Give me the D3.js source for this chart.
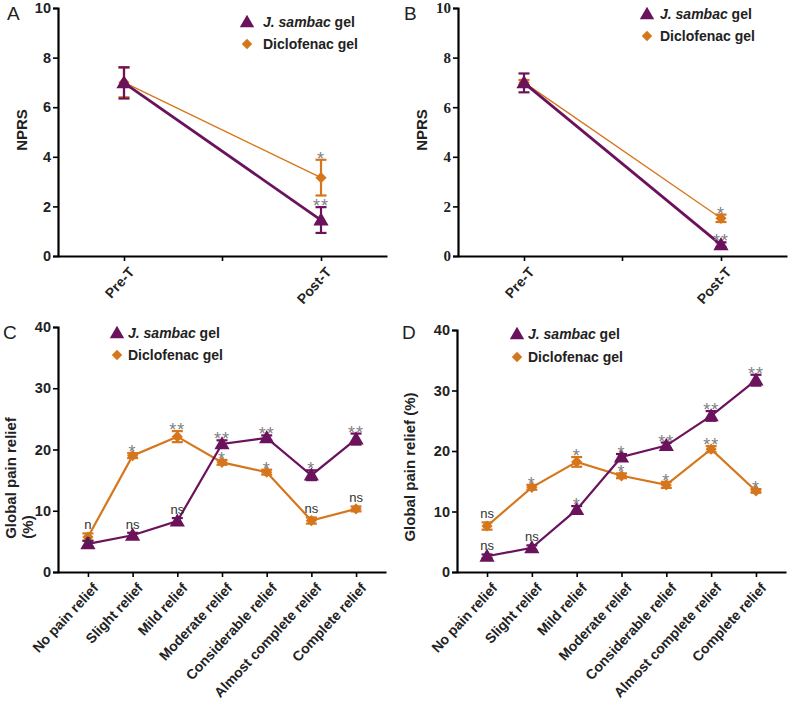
<!DOCTYPE html>
<html><head><meta charset="utf-8">
<script src="https://cdn.jsdelivr.net/npm/d3@7/dist/d3.min.js"></script>
<style>body{margin:0;background:#fff}svg{display:block;font-family:"Liberation Sans",Arial,sans-serif}</style>
</head><body><svg id="c" width="790" height="707"></svg>
<script>
// ---------- DATA ----------
const nprsCats = ["Pre-T", "Post-T"];
const aSambac = [6.98, 1.45], aSambacErr = [0.63, 0.52];
const aDiclo = [7.0, 3.16], aDicloErr = [0.6, 0.72];
const aSambacSig = ["", "**"], aDicloSig = ["", "*"];
const bSambac = [6.98, 0.45], bSambacErr = [0.38, 0.1];
const bDiclo = [7.0, 1.52], bDicloErr = [0.1, 0.15];
const bSambacSig = ["", "**"], bDicloSig = ["", "*"];
const nprsTicks = [0, 2, 4, 6, 8, 10];

const reliefCats = ["No pain relief", "Slight relief", "Mild relief", "Moderate relief",
  "Considerable relief", "Almost complete relief", "Complete relief"];
const cSambac = [4.6, 6.0, 8.3, 20.9, 21.9, 15.8, 21.7];
const cSambacErr = [0.5, 0.4, 0.5, 0.6, 0.4, 0.8, 0.9];
const cDiclo = [5.7, 19.0, 22.1, 17.9, 16.3, 8.4, 10.3];
const cDicloErr = [0.6, 0.4, 0.9, 0.4, 0.4, 0.5, 0.4];
const cSambacSig = ["s", "ns", "ns", "**", "**", "*", "**"];
const cDicloSig = ["n", "*", "**", "*", "*", "ns", "ns"];
const dSambac = [2.6, 4.0, 10.3, 19.0, 20.9, 25.8, 31.7];
const dSambacErr = [0.3, 0.4, 0.6, 0.5, 0.5, 0.8, 0.9];
const dDiclo = [7.6, 14.0, 18.2, 15.9, 14.4, 20.3, 13.4];
const dDicloErr = [0.6, 0.4, 0.8, 0.4, 0.5, 0.5, 0.3];
const dSambacSig = ["ns", "ns", "*", "*", "**", "**", "**"];
const dDicloSig = ["ns", "*", "*", "*", "*", "**", "*"];
const reliefTicks = [0, 10, 20, 30, 40];

const PURPLE = "#6b125c", ORANGE = "#d6761c";
const SANS = "'Liberation Sans',Arial,sans-serif";
const svg = d3.select("#c");

function panel(o) {
  const g = svg.append("g").attr("font-family", SANS);
  const x = d3.scalePoint().domain(o.cats).range([o.x0, o.x1]).padding(o.pad);
  const y = d3.scaleLinear().domain([0, o.ymax]).range([o.yb, o.yt]);
  // axes
  const ya = g.append("g").attr("transform", `translate(${o.x0},0)`)
    .call(d3.axisLeft(y).tickValues(o.ticks).tickSize(5).tickPadding(2));
  ya.select(".domain").attr("stroke", "#000").attr("stroke-width", 2.2);
  ya.selectAll(".tick line").attr("stroke-width", 1.6);
  ya.selectAll("text").attr("font-size", o.serif ? 15 : 14.5).attr("font-weight", "bold").attr("fill", "#222")
    .attr("font-family", o.serif ? "'Liberation Serif','Times New Roman',serif" : SANS);
  const xa = g.append("g").attr("transform", `translate(0,${o.yb})`)
    .call(d3.axisBottom(x).tickSize(5).tickSizeOuter(0).tickFormat(""));
  xa.select(".domain").attr("stroke-width", 2.2);
  xa.selectAll(".tick line").attr("stroke-width", 1.6);
  if (o.midTick) {
    const xm = (x(o.cats[0]) + x(o.cats[o.cats.length - 1])) / 2;
    g.append("line").attr("x1", xm).attr("x2", xm).attr("y1", o.yb).attr("y2", o.yb + 5)
      .attr("stroke", "#000").attr("stroke-width", 1.6);
  }
  // x labels
  g.selectAll(".xl").data(o.cats).join("text")
    .attr("transform", d => `translate(${x(d) + 4},${o.yb + 10}) rotate(${o.xrot})`)
    .attr("text-anchor", "end").attr("dy", "0.7em")
    .attr("font-size", o.xfs).attr("font-weight", "bold").attr("fill", "#222").text(d => d);
  // y title
  o.ytitle.forEach(t => {
    g.append("text").attr("transform", `translate(${t.x},${t.y}) rotate(-90)`)
      .attr("text-anchor", "middle").attr("font-size", 15).attr("font-weight", "bold")
      .attr("fill", "#222").text(t.text);
  });
  // panel letter
  g.append("text").attr("x", o.lx).attr("y", o.ly).attr("font-size", 19).attr("fill", "#222").text(o.letter);

  const series = [
    {v: o.d, e: o.de, sig: o.dsig, c: ORANGE, w: o.dw, m: "diamond"},
    {v: o.s, e: o.se, sig: o.ssig, c: PURPLE, w: o.sw, m: "triangle"}
  ];
  const line = d3.line().x((d, i) => x(o.cats[i])).y(d => y(d));
  series.forEach(s => {
    g.append("path").attr("d", line(s.v)).attr("fill", "none").attr("stroke", s.c).attr("stroke-width", s.w);
  });
  series.forEach(s => {
    s.v.forEach((v, i) => {
      const cx = x(o.cats[i]);
      const top = y(v + s.e[i]), bot = y(v - s.e[i]);
      g.append("line").attr("x1", cx).attr("x2", cx).attr("y1", top).attr("y2", bot).attr("stroke", s.c).attr("stroke-width", 2.2);
      [top, bot].forEach(yy => g.append("line").attr("x1", cx - 5.5).attr("x2", cx + 5.5).attr("y1", yy).attr("y2", yy)
        .attr("stroke", s.c).attr("stroke-width", 2.2));
      const sym = d3.symbol().type(s.m === "diamond" ? d3.symbolDiamond2 : d3.symbolTriangle).size(s.m === "diamond" ? 80 : 100);
      g.append("path").attr("d", sym()).attr("transform", `translate(${cx},${y(v) + (s.m === "triangle" ? 1 : 0)})`).attr("fill", s.c);
    });
  });
  // significance labels, stacked so that labels at one category never collide
  o.cats.forEach((c, i) => {
    const items = series.map(s => {
      const t = s.sig[i];
      const ast = t.includes("*");
      const top = y(s.v[i] + s.e[i]);
      return {t, ast, base: ast ? top + 5 : top - 4};
    }).filter(d => d.t).sort((a, b) => a.base - b.base);
    for (let k = 1; k < items.length; k++) {
      if (items[k].base - items[k - 1].base < 15) items[k].base = items[k - 1].base + 15;
    }
    items.forEach(d => {
      g.append("text").attr("x", x(c)).attr("y", d.base)
        .attr("text-anchor", "middle").attr("font-size", d.ast ? 18 : 13)
        .attr("letter-spacing", d.ast ? 1 : 0)
        .attr("fill", d.ast ? "#808080" : "#333").text(d.t);
    });
  });
  // legend
  const L = o.leg;
  [[PURPLE, "triangle", 0], [ORANGE, "diamond", L.dy]].forEach(([c, m, dy]) => {
    const sym = d3.symbol().type(m === "diamond" ? d3.symbolDiamond2 : d3.symbolTriangle).size(m === "diamond" ? 70 : 90);
    g.append("path").attr("d", sym()).attr("transform", `translate(${L.x},${L.y + dy + (m === "triangle" ? 1 : 0)})`).attr("fill", c);
  });
  const t1 = g.append("text").attr("x", L.tx).attr("y", L.y + 5).attr("font-size", L.fs).attr("font-weight", "bold").attr("fill", "#222");
  t1.append("tspan").attr("font-style", "italic").text("J. sambac");
  t1.append("tspan").text(" gel");
  g.append("text").attr("x", L.tx).attr("y", L.y + L.dy + 5).attr("font-size", L.fs).attr("font-weight", "bold").attr("fill", "#222").text("Diclofenac gel");
}

panel({cats: nprsCats, x0: 58, x1: 387, pad: 0.335, yb: 256, yt: 8, ymax: 10, ticks: nprsTicks, midTick: true,
  s: aSambac, se: aSambacErr, d: aDiclo, de: aDicloErr, ssig: aSambacSig, dsig: aDicloSig, sw: 2.8, dw: 1.3,
  xfs: 14, xrot: -48, ytitle: [{x: 27, y: 130, text: "NPRS"}], letter: "A", lx: 7, ly: 20,
  leg: {x: 247, y: 22, dy: 22, tx: 263, fs: 14}});
panel({cats: nprsCats, x0: 458, x1: 787, pad: 0.335, yb: 256, yt: 8, ymax: 10, ticks: nprsTicks, midTick: true, serif: true,
  s: bSambac, se: bSambacErr, d: bDiclo, de: bDicloErr, ssig: bSambacSig, dsig: bDicloSig, sw: 2.8, dw: 1.3,
  xfs: 14, xrot: -48, ytitle: [{x: 427, y: 130, text: "NPRS"}], letter: "B", lx: 404, ly: 20,
  leg: {x: 647, y: 14, dy: 22, tx: 660, fs: 14}});
panel({cats: reliefCats, x0: 58, x1: 386, pad: 0.67, yb: 572, yt: 327, ymax: 40, ticks: reliefTicks,
  s: cSambac, se: cSambacErr, d: cDiclo, de: cDicloErr, ssig: cSambacSig, dsig: cDicloSig, sw: 2.2, dw: 2.2,
  xfs: 14, xrot: -47, ytitle: [{x: 16, y: 478, text: "Global pain relief"}, {x: 33, y: 527, text: "(%)"}], letter: "C", lx: 3, ly: 339,
  leg: {x: 117, y: 333, dy: 22, tx: 128, fs: 14}});
panel({cats: reliefCats, x0: 457, x1: 786, pad: 0.67, yb: 572, yt: 330, ymax: 40, ticks: reliefTicks,
  s: dSambac, se: dSambacErr, d: dDiclo, de: dDicloErr, ssig: dSambacSig, dsig: dDicloSig, sw: 2.2, dw: 2.2,
  xfs: 14, xrot: -47, ytitle: [{x: 415, y: 467, text: "Global pain relief (%)"}], letter: "D", lx: 402, ly: 339,
  leg: {x: 517, y: 334, dy: 23, tx: 528, fs: 14}});
</script></body></html>
